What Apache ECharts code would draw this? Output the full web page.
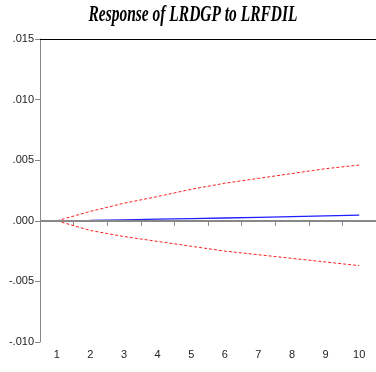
<!DOCTYPE html>
<html><head><meta charset="utf-8">
<script src="https://cdn.jsdelivr.net/npm/echarts@6/dist/echarts.min.js"></script>
<style>html,body{margin:0;padding:0;background:#fff}#c{width:376px;height:372px}</style>
</head><body><div id="c"></div>
<script>
var categories = ['1','2','3','4','5','6','7','8','9','10'];
var response = [0, 0.00003, 0.00008, 0.00013, 0.00018, 0.00023, 0.00029, 0.00035, 0.00041, 0.00047];
var upperBand = [0, 0.00078, 0.00145, 0.0020, 0.0026, 0.0031, 0.0035, 0.0039, 0.0043, 0.0046];
var lowerBand = [0, -0.0008, -0.0013, -0.0017, -0.0021, -0.0025, -0.0028, -0.0031, -0.0034, -0.0037];
var yTickLabels = {'-0.01':'-.010','-0.005':'-.005','0':'.000','0.005':'.005','0.01':'.010','0.015':'.015'};
var titleText = 'Response of LRDGP to LRFDIL';

var chart = echarts.init(document.getElementById('c'));
function fmt(v){ var k = String(Math.round(v*1000)/1000); return yTickLabels[k] !== undefined ? yTickLabels[k] : k; }
chart.setOption({
  animation:false,
  graphic:[{type:'text', x:193, y:4, scaleX:0.72, scaleY:1.05, originX:0, originY:0,
    style:{text:titleText, fill:'#000', font:'italic bold 21.5px "Liberation Serif"', textAlign:'center', textVerticalAlign:'top'}}],
  grid:{left:40, top:39, width:342, height:303, show:false},
  xAxis:[{type:'category', data:categories, boundaryGap:true, position:'bottom',
    axisLine:{lineStyle:{color:'#888', width:1}},
    axisTick:{show:true, length:5, lineStyle:{color:'#888'}},
    axisLabel:{color:'#222', fontFamily:'Liberation Sans', fontSize:11, margin:7},
    splitLine:{show:false}},
   {type:'category', data:categories, position:'top',
    axisLine:{lineStyle:{color:'#000', width:1}}, axisTick:{show:false}, axisLabel:{show:false}}],
  yAxis:{type:'value', min:-0.01, max:0.015, interval:0.005,
    axisLine:{show:true, lineStyle:{color:'#888'}},
    axisTick:{show:true, length:5, lineStyle:{color:'#888'}},
    axisLabel:{formatter:fmt, color:'#222', fontFamily:'Liberation Sans', fontSize:11, margin:6},
    splitLine:{show:false}},
  series:[
    {type:'line', data:upperBand, symbol:'none', lineStyle:{color:'#ff2020', width:1, type:[3,2]},
     markLine:{silent:true, symbol:'none', label:{show:false}, lineStyle:{color:'#888', width:2, type:'solid'}, data:[{yAxis:0}]}},
    {type:'line', data:lowerBand, symbol:'none', lineStyle:{color:'#ff2020', width:1, type:[3,2]}},
    {type:'line', data:response, symbol:'none', lineStyle:{color:'#2020ff', width:1.3}}
  ]
});
</script></body></html>
